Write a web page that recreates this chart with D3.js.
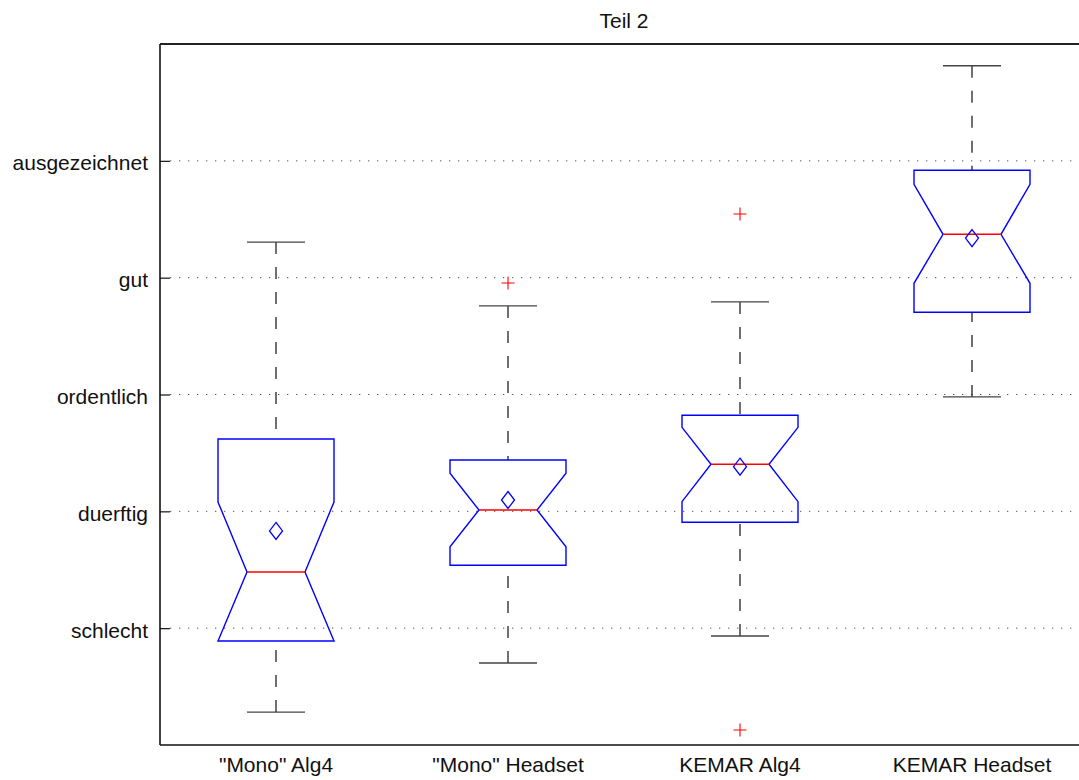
<!DOCTYPE html>
<html>
<head>
<meta charset="utf-8">
<script src="https://cdn.jsdelivr.net/npm/d3@7"></script>
<style>
  body { margin: 0; background: #fff; }
  text { font-family: "Liberation Sans", Arial, sans-serif; fill: #111; }
</style>
</head>
<body>
<div id="chart"></div>
<script>
// data
var categories = ['"Mono" Alg4', '"Mono" Headset', 'KEMAR Alg4', 'KEMAR Headset'];
var ratingLabels = ["schlecht", "duerftig", "ordentlich", "gut", "ausgezeichnet"];
var ratingValues = [1, 2, 3, 4, 5];

var whiskerLo = [0.282, 0.702, 0.933, 2.979];
var q1        = [0.890, 1.538, 1.906, 3.704];
var notchLo   = [0.890, 1.697, 2.083, 3.952];
var medians   = [1.481, 2.011, 2.403, 4.371];
var notchHi   = [2.080, 2.326, 2.719, 4.799];
var q3        = [2.619, 2.439, 2.822, 4.919];
var whiskerHi = [4.305, 3.758, 3.792, 5.814];
var means     = [1.832, 2.097, 2.382, 4.339];
var outliers  = [[], [3.954], [4.545, 0.128], []];

var width = 1079, height = 780;
var margin = {top: 44, left: 160, bottom: 35};
var plotRight = 1088; // axes box runs a little past the window

var svg = d3.select("#chart").append("svg")
    .attr("width", width)
    .attr("height", height);

var x = d3.scaleLinear().domain([0.5, 4.5]).range([margin.left, plotRight]);
var y = d3.scaleLinear().domain([0, 6]).range([height - margin.bottom, margin.top]);

// grid lines
svg.append("g").selectAll("line")
    .data(ratingValues)
    .enter().append("line")
    .attr("x1", margin.left + 10)
    .attr("x2", plotRight)
    .attr("y1", function(d) { return y(d); })
    .attr("y2", function(d) { return y(d); })
    .attr("stroke", "#555")
    .attr("stroke-width", 1)
    .attr("stroke-dasharray", "1.3,7.7");

// y axis, ticks inward
var yAxis = svg.append("g")
    .attr("transform", "translate(" + margin.left + ",0)")
    .call(d3.axisRight(y).tickValues(ratingValues).tickSize(10).tickFormat(""));
yAxis.select(".domain").remove();
yAxis.selectAll(".tick line").attr("stroke", "#111").attr("stroke-width", 1.2);

svg.append("g").selectAll("text")
    .data(ratingValues)
    .enter().append("text")
    .attr("x", margin.left - 12)
    .attr("y", function(d) { return y(d) + 9.5; })
    .attr("text-anchor", "end")
    .style("font-size", "21px")
    .text(function(d, i) { return ratingLabels[i]; });

// x labels
var xAxis = svg.append("g")
    .attr("transform", "translate(0," + y(0) + ")")
    .call(d3.axisBottom(x).tickValues([1, 2, 3, 4]).tickSize(0).tickPadding(0).tickFormat(""));
xAxis.select(".domain").remove();

svg.append("g").selectAll("text")
    .data(categories)
    .enter().append("text")
    .attr("x", function(d, i) { return x(i + 1); })
    .attr("y", 772)
    .attr("text-anchor", "middle")
    .style("font-size", "21px")
    .text(function(d) { return d; });

// axes frame
svg.append("line")
    .attr("x1", margin.left).attr("x2", margin.left)
    .attr("y1", y(6)).attr("y2", y(0))
    .attr("stroke", "#111").attr("stroke-width", 1.6);
svg.append("line")
    .attr("x1", margin.left).attr("x2", plotRight)
    .attr("y1", y(6)).attr("y2", y(6))
    .attr("stroke", "#222").attr("stroke-width", 1.8);
svg.append("line")
    .attr("x1", margin.left).attr("x2", plotRight)
    .attr("y1", y(0)).attr("y2", y(0))
    .attr("stroke", "#111").attr("stroke-width", 1.6);

// title
svg.append("text")
    .attr("x", (margin.left + plotRight) / 2)
    .attr("y", 28)
    .attr("text-anchor", "middle")
    .style("font-size", "21px")
    .text("Teil 2");

var boxHalf = 0.25, notchHalf = 0.125, capHalf = 0.125;

var boxes = svg.append("g").selectAll("g")
    .data(categories)
    .enter().append("g");

// whiskers
boxes.each(function(d, i) {
    var g = d3.select(this), c = i + 1;
    [[q3[i], whiskerHi[i]], [q1[i], whiskerLo[i]]].forEach(function(w) {
        g.append("line")
            .attr("x1", x(c)).attr("x2", x(c))
            .attr("y1", y(w[1])).attr("y2", y(w[0]))
            .attr("stroke", "#111")
            .attr("stroke-width", 1.2)
            .attr("stroke-dasharray", "12,13");
        g.append("line")
            .attr("x1", x(c - capHalf)).attr("x2", x(c + capHalf))
            .attr("y1", y(w[1])).attr("y2", y(w[1]))
            .attr("stroke", "#444")
            .attr("stroke-width", 1.3);
    });

    // notched box
    var pts = [
        [c - boxHalf, q3[i]], [c - boxHalf, notchHi[i]], [c - notchHalf, medians[i]],
        [c - boxHalf, notchLo[i]], [c - boxHalf, q1[i]], [c + boxHalf, q1[i]],
        [c + boxHalf, notchLo[i]], [c + notchHalf, medians[i]], [c + boxHalf, notchHi[i]],
        [c + boxHalf, q3[i]]
    ];
    g.append("path")
        .attr("d", d3.line().x(function(p) { return x(p[0]); }).y(function(p) { return y(p[1]); })(pts) + "Z")
        .attr("fill", "none")
        .attr("stroke", "#0000ff")
        .attr("stroke-width", 1.4);

    // median
    g.append("line")
        .attr("x1", x(c - notchHalf)).attr("x2", x(c + notchHalf))
        .attr("y1", y(medians[i])).attr("y2", y(medians[i]))
        .attr("stroke", "#ff0000")
        .attr("stroke-width", 1.4);

    // mean diamond
    var mx = x(c), my = y(means[i]);
    g.append("path")
        .attr("d", "M" + mx + "," + (my - 8.5) + "L" + (mx + 6.5) + "," + my +
                   "L" + mx + "," + (my + 8.5) + "L" + (mx - 6.5) + "," + my + "Z")
        .attr("fill", "none")
        .attr("stroke", "#0000ff")
        .attr("stroke-width", 1.3);

    // outliers
    outliers[i].forEach(function(o) {
        var oy = y(o);
        g.append("path")
            .attr("d", "M" + (mx - 6.5) + "," + oy + "H" + (mx + 6.5) +
                       "M" + mx + "," + (oy - 6.5) + "V" + (oy + 6.5))
            .attr("stroke", "#ff0000")
            .attr("stroke-width", 1.1);
    });
});
</script>
</body>
</html>
